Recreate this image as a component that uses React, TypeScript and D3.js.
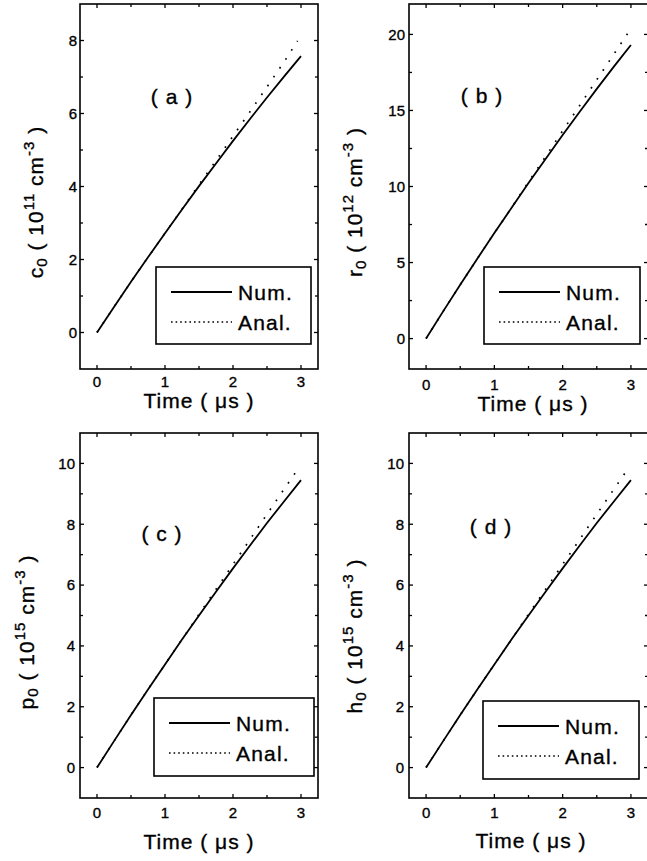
import React from "react";
import { scaleLinear, line } from "d3";

// sample times (μs)
const timeNum = [0, 0.25, 0.5, 0.75, 1, 1.25, 1.5, 1.75, 2, 2.25, 2.5, 2.75, 3];
const timeAnal = [0, 0.25, 0.5, 0.75, 1, 1.25, 1.5, 1.75, 2, 2.25, 2.5, 2.75, 2.95];

// (a) c0, 10^11 cm^-3
const numA = [0, 0.7, 1.39, 2.06, 2.72, 3.37, 4.01, 4.63, 5.25, 5.85, 6.44, 7.01, 7.57];
const analA = [0, 0.7, 1.39, 2.06, 2.72, 3.38, 4.05, 4.71, 5.38, 6.05, 6.73, 7.41, 7.99];
// (b) r0, 10^12 cm^-3
const numB = [0, 1.79, 3.54, 5.25, 6.94, 8.59, 10.23, 11.81, 13.39, 14.92, 16.42, 17.88, 19.3];
const analB = [0, 1.79, 3.54, 5.25, 6.94, 8.59, 10.31, 11.97, 13.66, 15.33, 17.02, 18.7, 20.05];
// (c) p0, 10^15 cm^-3
const numC = [0, 0.87, 1.73, 2.57, 3.39, 4.21, 5.0, 5.78, 6.55, 7.3, 8.04, 8.75, 9.45];
const analC = [0, 0.87, 1.73, 2.57, 3.39, 4.21, 5.04, 5.86, 6.68, 7.5, 8.33, 9.15, 9.8];
// (d) h0, 10^15 cm^-3
const numD = [0, 0.87, 1.73, 2.57, 3.39, 4.21, 5.0, 5.78, 6.55, 7.3, 8.04, 8.75, 9.45];
const analD = [0, 0.87, 1.73, 2.57, 3.39, 4.21, 5.04, 5.86, 6.68, 7.5, 8.33, 9.15, 9.8];

const xMajor = [0, 1, 2, 3];
const xMinor = [0.5, 1.5, 2.5];
const legendNames = ["Num.", "Anal."];

const FONT = "'Liberation Sans', Arial, Helvetica, sans-serif";
// scanned text looks heavier than plain regular
const TXT = { fontFamily: FONT, fill: "#000", stroke: "#000", strokeWidth: 0.35 };

const panels = [
  {
    id: "a", letter: "( a )", sym: "c", exp: "11",
    num: numA, anal: analA, yDomain: [-1, 9], yMajor: [0, 2, 4, 6, 8], yMinor: [1, 3, 5, 7],
    left: 80, right: 318, top: 4, bottom: 369,
    letterPos: [172, 104], yLabel: [43, 202], xLabelX: 199, xLabelY: 408, xTickDy: 18, yTickGap: 3,
    legend: [156, 267, 155, 77],
  },
  {
    id: "b", letter: "( b )", sym: "r", exp: "12",
    num: numB, anal: analB, yDomain: [-2, 22], yMajor: [0, 5, 10, 15, 20], yMinor: [2.5, 7.5, 12.5, 17.5],
    left: 409, right: 648, top: 4, bottom: 369,
    letterPos: [482, 103], yLabel: [362, 202], xLabelX: 533, xLabelY: 411, xTickDy: 21, yTickGap: 4,
    legend: [484, 267, 156, 77],
  },
  {
    id: "c", letter: "( c )", sym: "p", exp: "15",
    num: numC, anal: analC, yDomain: [-1, 11], yMajor: [0, 2, 4, 6, 8, 10], yMinor: [1, 3, 5, 7, 9],
    left: 80, right: 318, top: 433, bottom: 798,
    letterPos: [162, 541], yLabel: [34, 632], xLabelX: 199, xLabelY: 849, xTickDy: 20, yTickGap: 5,
    legend: [154, 698, 160, 78],
  },
  {
    id: "d", letter: "( d )", sym: "h", exp: "15",
    num: numD, anal: analD, yDomain: [-1, 11], yMajor: [0, 2, 4, 6, 8, 10], yMinor: [1, 3, 5, 7, 9],
    left: 409, right: 648, top: 433, bottom: 798,
    letterPos: [491, 534], yLabel: [362, 636], xLabelX: 531, xLabelY: 848, xTickDy: 20, yTickGap: 5,
    legend: [483, 701, 156, 78],
  },
];

function Panel({ p }: { p: any }) {
  const x = scaleLinear().domain([-0.25, 3.25]).range([p.left, p.right]);
  const y = scaleLinear().domain(p.yDomain).range([p.bottom, p.top]);
  const numPath = line<number>().x((_, i) => x(timeNum[i])).y((d) => y(d))(p.num);
  const analPath = line<number>().x((_, i) => x(timeAnal[i])).y((d) => y(d))(p.anal);
  const majorLen = 4;
  const minorLen = 3;
  const [lx, ly, lw, lh] = p.legend;

  return (
    <g>
      {/* ticks on all four sides, pointing inward */}
      {xMajor.concat(xMinor).map((t) => {
        const len = xMajor.includes(t) ? majorLen : minorLen;
        return (
          <g key={"xt" + t} stroke="#000" strokeWidth={1.3}>
            <line x1={x(t)} x2={x(t)} y1={p.bottom} y2={p.bottom - len} />
            <line x1={x(t)} x2={x(t)} y1={p.top} y2={p.top + len} />
          </g>
        );
      })}
      {p.yMajor.concat(p.yMinor).map((t: number) => {
        const len = p.yMajor.includes(t) ? majorLen : minorLen;
        return (
          <g key={"yt" + t} stroke="#000" strokeWidth={1.3}>
            <line x1={p.left} x2={p.left + len} y1={y(t)} y2={y(t)} />
            <line x1={p.right} x2={p.right - len} y1={y(t)} y2={y(t)} />
          </g>
        );
      })}
      <rect
        x={p.left}
        y={p.top}
        width={p.right - p.left}
        height={p.bottom - p.top}
        fill="none"
        stroke="#000"
        strokeWidth={1.6}
      />
      {xMajor.map((t) => (
        <text key={"xl" + t} x={x(t)} y={p.bottom + p.xTickDy} textAnchor="middle" fontSize={15} {...TXT}>
          {t}
        </text>
      ))}
      {p.yMajor.map((t: number) => (
        <text
          key={"yl" + t}
          x={p.left - p.yTickGap}
          y={y(t)}
          dy="0.36em"
          textAnchor="end"
          fontSize={15}
          {...TXT}
        >
          {t}
        </text>
      ))}
      <text x={p.xLabelX} y={p.xLabelY} textAnchor="middle" fontSize={21} letterSpacing={1} {...TXT}>
        Time ( μs )
      </text>
      <text
        transform={`translate(${p.yLabel[0]},${p.yLabel[1]}) rotate(-90)`}
        textAnchor="middle"
        fontSize={21}
        letterSpacing={1}
        {...TXT}
      >
        {p.sym}
        <tspan fontSize={15} dy={4}>0</tspan>
        <tspan dy={-4}> ( 10</tspan>
        <tspan fontSize={15} dy={-9}>{p.exp}</tspan>
        <tspan dy={9}> cm</tspan>
        <tspan fontSize={15} dy={-9}>-3</tspan>
        <tspan dy={9}> )</tspan>
      </text>
      <text x={p.letterPos[0]} y={p.letterPos[1]} textAnchor="middle" fontSize={21} letterSpacing={1} {...TXT}>
        {p.letter}
      </text>
      <path d={analPath || ""} fill="none" stroke="#000" strokeWidth={1.7} strokeDasharray="1.7 9" />
      <path d={numPath || ""} fill="none" stroke="#000" strokeWidth={1.8} />
      {/* legend */}
      <rect x={lx} y={ly} width={lw} height={lh} fill="#fff" stroke="#000" strokeWidth={1.6} />
      <line x1={lx + 15} x2={lx + 76} y1={ly + 25} y2={ly + 25} stroke="#000" strokeWidth={1.8} />
      <line
        x1={lx + 15}
        x2={lx + 76}
        y1={ly + 55}
        y2={ly + 55}
        stroke="#000"
        strokeWidth={1.5}
        strokeDasharray="1.6 3"
      />
      <text x={lx + 82} y={ly + 33} fontSize={21} letterSpacing={1.2} {...TXT}>
        {legendNames[0]}
      </text>
      <text x={lx + 82} y={ly + 63} fontSize={21} letterSpacing={1.2} {...TXT}>
        {legendNames[1]}
      </text>
    </g>
  );
}

export default function App() {
  return (
    <div style={{ position: "absolute", left: 0, top: 0 }}>
      <svg width={647} height={861} style={{ display: "block", background: "#fff" }}>
        <rect width={647} height={861} fill="#fff" />
        {panels.map((p) => (
          <Panel key={p.id} p={p} />
        ))}
      </svg>
    </div>
  );
}
